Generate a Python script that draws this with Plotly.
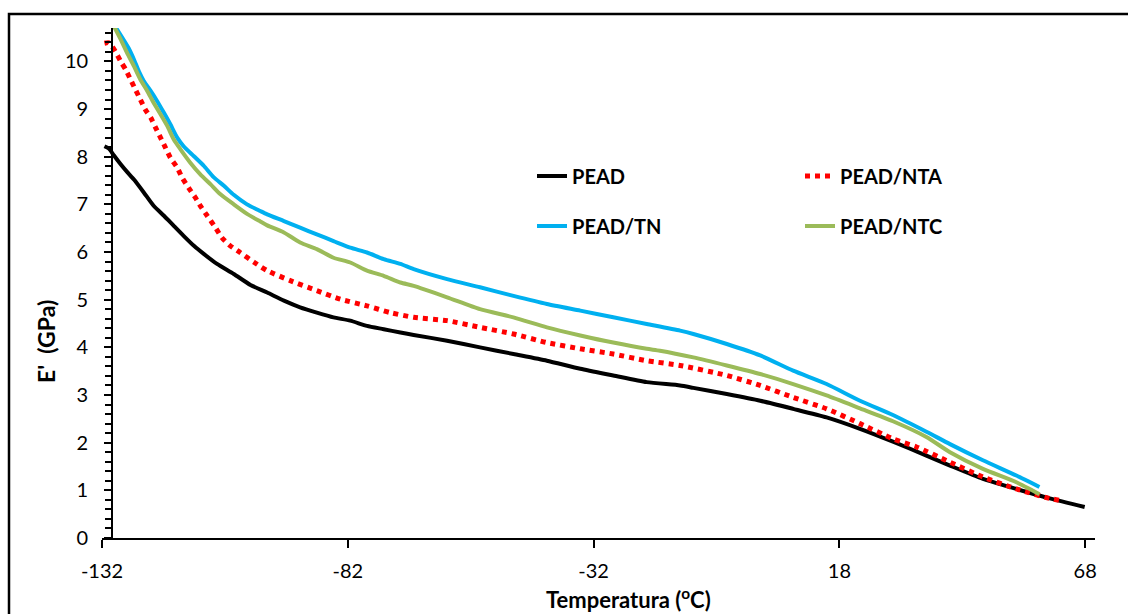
import plotly.graph_objects as go

# ---------------- data ----------------
PEAD_T = [-131.5, -130.6, -129.6, -128.2, -126.9, -125.5, -123.5, -121.5, -119.4, -117.4,
          -115.4, -113.3, -111.3, -108.6, -105.2, -101.8, -98.4, -95.0, -91.7, -88.3,
          -84.9, -81.5, -78.1, -74.7, -71.3, -68.6, -61.8, -55.1, -48.3, -41.5,
          -34.7, -28.0, -21.2, -14.4, -11.7, -4.9, 1.9, 8.6, 15.4, 22.2,
          28.9, 35.7, 40.5, 47.2, 54.0, 60.8, 67.9]
PEAD_E = [8.22, 8.17, 8.03, 7.84, 7.68, 7.52, 7.25, 6.97, 6.76, 6.55,
          6.34, 6.13, 5.96, 5.75, 5.54, 5.31, 5.15, 4.98, 4.84, 4.73,
          4.63, 4.56, 4.45, 4.38, 4.31, 4.26, 4.14, 4.00, 3.86, 3.72,
          3.55, 3.41, 3.27, 3.20, 3.15, 3.02, 2.88, 2.71, 2.53, 2.29,
          2.02, 1.73, 1.52, 1.24, 1.03, 0.83, 0.65]

NTA_T = [-131.5, -130.6, -129.3, -128.2, -127.2, -126.2, -125.2, -124.2, -123.2, -122.1,
         -121.1, -120.1, -119.1, -118.1, -116.7, -115.7, -114.4, -113.0, -112.0, -110.6,
         -108.9, -107.6, -105.9, -103.9, -101.0, -98.4, -93.7, -88.3, -83.5, -78.1,
         -73.4, -68.6, -61.8, -55.1, -48.3, -41.5, -34.7, -28.0, -21.2, -14.4,
         -4.9, 1.9, 8.6, 15.4, 22.2, 28.9, 33.7, 40.5, 47.2, 54.0,
         60.8, 62.8]
NTA_E = [10.38, 10.39, 10.21, 10.00, 9.83, 9.62, 9.41, 9.20, 8.99, 8.82,
         8.61, 8.40, 8.19, 7.98, 7.77, 7.56, 7.35, 7.14, 6.97, 6.76,
         6.51, 6.30, 6.13, 5.99, 5.78, 5.61, 5.40, 5.19, 5.01, 4.87,
         4.73, 4.63, 4.56, 4.42, 4.28, 4.10, 3.97, 3.86, 3.72, 3.62,
         3.41, 3.20, 2.95, 2.71, 2.40, 2.08, 1.91, 1.59, 1.28, 1.03,
         0.83, 0.79]

TN_T = [-131.0, -128.5, -126.6, -125.5, -124.5, -123.5, -122.1, -120.8, -119.4, -118.1,
        -116.7, -115.4, -113.3, -111.3, -109.3, -107.2, -105.2, -102.5, -99.8, -98.4,
        -95.0, -91.7, -88.3, -84.9, -81.5, -78.1, -74.7, -71.3, -68.6, -61.8,
        -55.1, -48.3, -41.5, -34.7, -28.0, -21.2, -14.4, -11.7, -4.9, 1.9,
        8.6, 15.4, 22.2, 28.9, 35.7, 40.5, 47.2, 54.0, 58.7]
TN_E = [11.00, 10.60, 10.28, 10.04, 9.79, 9.59, 9.38, 9.17, 8.92, 8.68,
        8.40, 8.22, 8.01, 7.81, 7.57, 7.39, 7.20, 7.00, 6.86, 6.79,
        6.65, 6.51, 6.37, 6.23, 6.09, 5.99, 5.85, 5.75, 5.64, 5.43,
        5.26, 5.08, 4.91, 4.77, 4.63, 4.49, 4.35, 4.28, 4.07, 3.83,
        3.51, 3.23, 2.88, 2.58, 2.23, 1.97, 1.63, 1.31, 1.07]

NTC_T = [-131.0, -129.6, -128.2, -126.9, -125.5, -124.2, -122.8, -121.5, -120.1, -118.7,
         -117.4, -116.0, -114.0, -112.0, -109.9, -107.9, -105.2, -102.5, -99.8, -98.4,
         -95.0, -91.7, -88.3, -84.9, -81.5, -78.1, -74.7, -71.3, -68.6, -61.8,
         -55.1, -48.3, -41.5, -34.7, -28.0, -21.2, -18.5, -11.7, -4.9, 1.9,
         8.6, 15.4, 22.2, 28.9, 35.7, 40.5, 47.2, 54.0, 58.7]
NTC_E = [11.00, 10.74, 10.46, 10.18, 9.90, 9.62, 9.38, 9.13, 8.89, 8.64,
         8.36, 8.15, 7.87, 7.63, 7.42, 7.21, 7.00, 6.80, 6.64, 6.56,
         6.41, 6.20, 6.06, 5.88, 5.78, 5.61, 5.50, 5.36, 5.29, 5.05,
         4.80, 4.63, 4.42, 4.25, 4.10, 3.97, 3.93, 3.79, 3.62, 3.44,
         3.23, 2.99, 2.72, 2.45, 2.12, 1.80, 1.45, 1.17, 0.92]

SERIES_NAMES = ["PEAD", "PEAD/NTA", "PEAD/TN", "PEAD/NTC"]
X_TICKS = [-132, -82, -32, 18, 68]
X_TICK_TEXT = ["-132", "-82", "-32", "18", "68"]
Y_TICKS = [0, 1, 2, 3, 4, 5, 6, 7, 8, 9, 10]

# ---------------- figure ----------------
W, H = 1128, 614
ML, MR, MT, MB = 102, 33, 28, 76
X_RANGE = [-132, 70]
Y_RANGE = [0, 10.7]
FONT = "Lato"

fig = go.Figure()
fig.add_trace(go.Scatter(x=PEAD_T, y=PEAD_E, name=SERIES_NAMES[0], mode="lines",
                         line=dict(color="#000000", width=4, shape="spline", smoothing=0.6),
                         legend="legend"))
fig.add_trace(go.Scatter(x=NTA_T, y=NTA_E, name=SERIES_NAMES[1], mode="lines",
                         line=dict(color="#FF0000", width=5, dash="5px,5px",
                                   shape="spline", smoothing=0.6),
                         legend="legend2"))
fig.add_trace(go.Scatter(x=TN_T, y=TN_E, name=SERIES_NAMES[2], mode="lines",
                         line=dict(color="#00B0F0", width=4, shape="spline", smoothing=0.6),
                         legend="legend3"))
fig.add_trace(go.Scatter(x=NTC_T, y=NTC_E, name=SERIES_NAMES[3], mode="lines",
                         line=dict(color="#9BBB59", width=4, shape="spline", smoothing=0.6),
                         legend="legend4"))

pw = W - ML - MR
ph = H - MT - MB

def px_x(p):
    return (p - ML) / pw

def px_y(p):
    return (H - MB - p) / ph

yaxis_pos = (-130 - X_RANGE[0]) / (X_RANGE[1] - X_RANGE[0])

legend_common = dict(orientation="v", xanchor="left", yanchor="middle",
                     bgcolor="rgba(0,0,0,0)", borderwidth=0,
                     font=dict(family=FONT, size=20, color="#000000", weight="bold"),
                     itemwidth=30)

fig.update_layout(
    width=W, height=H,
    margin=dict(l=ML, r=MR, t=MT, b=MB, pad=0, autoexpand=False),
    paper_bgcolor="white", plot_bgcolor="white",
    showlegend=True,
    legend=dict(x=px_x(532), y=px_y(176), **legend_common),
    legend2=dict(x=px_x(800), y=px_y(176), **legend_common),
    legend3=dict(x=px_x(532), y=px_y(226), **legend_common),
    legend4=dict(x=px_x(800), y=px_y(226), **legend_common),
    xaxis=dict(
        range=X_RANGE, tickmode="array", tickvals=X_TICKS, ticktext=X_TICK_TEXT,
        showgrid=False, zeroline=False,
        showline=True, linecolor="#000000", linewidth=1.5,
        ticks="outside", ticklen=8, tickwidth=1.5, tickcolor="#000000",
        tickfont=dict(family=FONT, size=20, color="#000000"),
        ticklabelstandoff=6,
    ),
    yaxis=dict(
        range=Y_RANGE, tickmode="array", tickvals=Y_TICKS,
        anchor="free", position=yaxis_pos,
        showgrid=False, zeroline=False,
        showline=True, linecolor="#000000", linewidth=1.5,
        ticks="outside", ticklen=7, tickwidth=1.5, tickcolor="#000000",
        tickfont=dict(family=FONT, size=20, color="#000000"),
        ticklabelstandoff=12,
        minor=dict(dtick=0.2, tick0=0, ticks="outside", ticklen=6,
                   tickwidth=1.5, tickcolor="#000000", showgrid=False),
    ),
    annotations=[
        dict(text="E'  (GPa)", xref="paper", yref="paper",
             x=px_x(46), y=px_y(342), textangle=-90, showarrow=False,
             xanchor="center", yanchor="middle",
             font=dict(family=FONT, size=23, color="#000000", weight="bold")),
        dict(text="Temperatura (<sup>o</sup>C)", xref="paper", yref="paper",
             x=px_x(628), y=px_y(598), showarrow=False,
             xanchor="center", yanchor="middle",
             font=dict(family=FONT, size=22, color="#000000", weight="bold")),
    ],
    shapes=[
        dict(type="rect", xref="paper", yref="paper",
             x0=px_x(9), x1=px_x(1135), y0=px_y(620), y1=px_y(14),
             line=dict(color="#000000", width=2.5), fillcolor="rgba(0,0,0,0)",
             layer="below"),
    ],
)

fig.write_html("out.html")
